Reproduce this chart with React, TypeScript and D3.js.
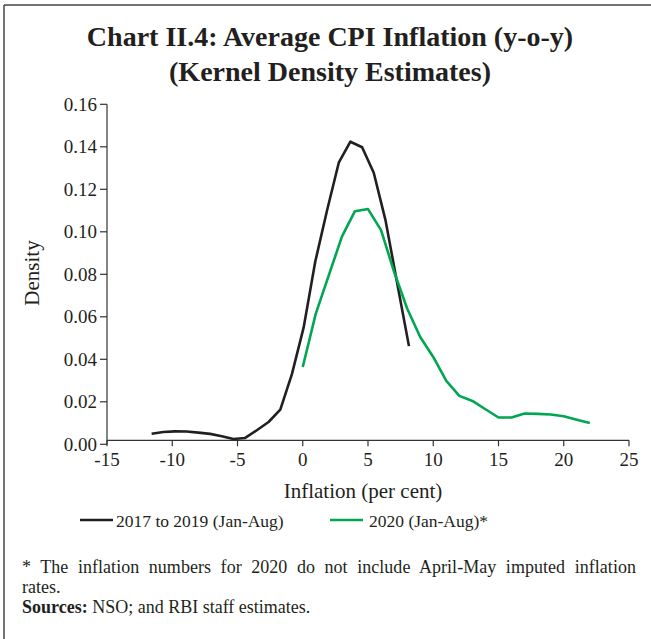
import React from "react";
import * as d3 from "d3";

const blackX = [-11.58, -10.68, -9.79, -8.89, -8.0, -7.1, -6.2, -5.31, -4.41, -3.52, -2.62, -1.72, -0.83, 0.07, 0.96, 1.86, 2.76, 3.65, 4.55, 5.44, 6.34, 7.24, 8.14];
const blackY = [0.005, 0.0058, 0.0061, 0.006, 0.0055, 0.0049, 0.0038, 0.0025, 0.003, 0.0066, 0.0105, 0.0163, 0.033, 0.055, 0.086, 0.11, 0.1325, 0.1424, 0.1398, 0.1278, 0.1055, 0.0757, 0.0462];

const greenX = [0, 1, 2, 3, 4, 5, 6, 7, 8, 9, 10, 11, 12, 13, 14, 15, 16, 17, 18, 19, 20, 21, 22];
const greenY = [0.0364, 0.0615, 0.0796, 0.0977, 0.1097, 0.1107, 0.1008, 0.0812, 0.0639, 0.0505, 0.0411, 0.0298, 0.0228, 0.0204, 0.0165, 0.0126, 0.0126, 0.0145, 0.0143, 0.014, 0.0132, 0.0116, 0.01];

const xTicks = [-15, -10, -5, 0, 5, 10, 15, 20, 25];
const yTicks = [0, 0.02, 0.04, 0.06, 0.08, 0.1, 0.12, 0.14, 0.16];

const seriesNames = ["2017 to 2019 (Jan-Aug)", "2020 (Jan-Aug)*"];
const seriesColors = ["#231f20", "#00a651"];

const FONT = "'Liberation Serif', 'Times New Roman', serif";
const TEXT = "#231f20";

export default function App() {
  const W = 651, H = 639;
  const x = d3.scaleLinear().domain([-15, 25]).range([107, 629]);
  const y = d3.scaleLinear().domain([0, 0.16]).range([444.3, 104.3]);
  const axisY = y(0) - 4;

  const line = d3
    .line<[number, number]>()
    .x((d) => x(d[0]))
    .y((d) => y(d[1]));

  const blackPts = blackX.map((v, i) => [v, blackY[i]] as [number, number]);
  const greenPts = greenX.map((v, i) => [v, greenY[i]] as [number, number]);

  return (
    <svg
      width={W}
      height={H}
      viewBox={`0 0 ${W} ${H}`}
      style={{ position: "absolute", left: 0, top: 0, background: "#fff" }}
      fontFamily={FONT}
    >
      <rect x={0} y={0} width={W} height={H} fill="#fff" />
      {/* frame */}
      <line x1={4} y1={5} x2={W} y2={5} stroke="#444" strokeWidth={1.5} />
      <line x1={4} y1={5} x2={4} y2={H} stroke="#444" strokeWidth={1.5} />

      {/* title */}
      <text x={330} y={46} textAnchor="middle" fontWeight="bold" fontSize={28} fill={TEXT}>
        Chart II.4: Average CPI Inflation (y-o-y)
      </text>
      <text x={330} y={81} textAnchor="middle" fontWeight="bold" fontSize={28} fill={TEXT}>
        (Kernel Density Estimates)
      </text>

      {/* y axis */}
      <line x1={x(-15)} y1={y(0.16)} x2={x(-15)} y2={y(0)} stroke="#333" strokeWidth={1.2} />
      {yTicks.map((t) => (
        <g key={"y" + t}>
          <line x1={x(-15) - 7} x2={x(-15)} y1={y(t)} y2={y(t)} stroke="#333" strokeWidth={1.2} />
          <text x={x(-15) - 10} y={y(t) + 6.3} textAnchor="end" fontSize={19} fill={TEXT}>
            {t.toFixed(2)}
          </text>
        </g>
      ))}
      <text
        transform={`translate(39,${273}) rotate(-90)`}
        textAnchor="middle"
        fontSize={21}
        fill={TEXT}
      >
        Density
      </text>

      {/* x axis */}
      <line x1={x(-15)} y1={axisY} x2={x(25)} y2={axisY} stroke="#333" strokeWidth={1.2} />
      {xTicks.map((t) => (
        <g key={"x" + t}>
          <line x1={x(t)} x2={x(t)} y1={axisY} y2={axisY + 6} stroke="#333" strokeWidth={1.2} />
          <text x={x(t)} y={466} textAnchor="middle" fontSize={19} fill={TEXT}>
            {t}
          </text>
        </g>
      ))}
      <text x={363} y={498} textAnchor="middle" fontSize={21} fill={TEXT}>
        Inflation (per cent)
      </text>

      {/* series */}
      <path d={line(blackPts) || ""} fill="none" stroke={seriesColors[0]} strokeWidth={2.6} strokeLinejoin="round" />
      <path d={line(greenPts) || ""} fill="none" stroke={seriesColors[1]} strokeWidth={2.6} strokeLinejoin="round" />

      {/* legend */}
      <line x1={80} x2={113} y1={520} y2={520} stroke={seriesColors[0]} strokeWidth={2.6} />
      <text x={116} y={527} fontSize={17.5} fill={TEXT}>
        {seriesNames[0]}
      </text>
      <line x1={330} x2={363} y1={520} y2={520} stroke={seriesColors[1]} strokeWidth={2.6} />
      <text x={369} y={527} fontSize={17.5} fill={TEXT}>
        {seriesNames[1]}
      </text>

      {/* footnotes */}
      <text x={22} y={573} fontSize={18} fill={TEXT} wordSpacing={5} textLength={614} lengthAdjust="spacing">
        * The inflation numbers for 2020 do not include April-May imputed inflation
      </text>
      <text x={22} y={593} fontSize={18} fill={TEXT}>
        rates.
      </text>
      <text x={22} y={613} fontSize={18} fill={TEXT}>
        <tspan fontWeight="bold">Sources:</tspan> NSO; and RBI staff estimates.
      </text>
    </svg>
  );
}
